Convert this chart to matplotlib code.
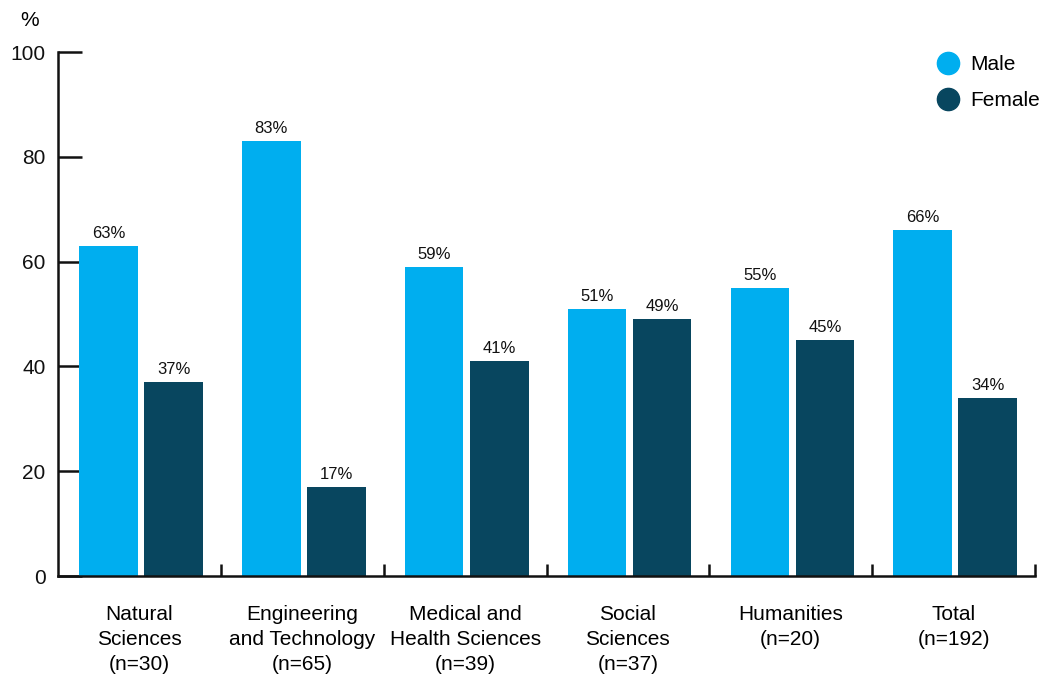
import matplotlib.pyplot as plt
from matplotlib.lines import Line2D
import numpy as np

plt.rcParams['font.family'] = ['Liberation Sans', 'DejaVu Sans']

categories = ["Natural\nSciences\n(n=30)", "Engineering\nand Technology\n(n=65)",
              "Medical and\nHealth Sciences\n(n=39)", "Social\nSciences\n(n=37)",
              "Humanities\n(n=20)", "Total\n(n=192)"]
male = [63, 83, 59, 51, 55, 66]
female = [37, 17, 41, 49, 45, 34]

male_color = "#00AEEF"
female_color = "#08465F"

fig = plt.figure(figsize=(10.42, 6.75), dpi=100)
ax = fig.add_axes([58 / 1042, 99 / 675, (1035 - 58) / 1042, (576 - 52) / 675])

x = np.arange(len(categories)) + 0.51
w = 0.36
bm = ax.bar(x - 0.2, male, w, color=male_color, zorder=2)
bf = ax.bar(x + 0.2, female, w, color=female_color, zorder=2)

for bars, vals in ((bm, male), (bf, female)):
    for b, v in zip(bars, vals):
        ax.text(b.get_x() + b.get_width() / 2, v + 1.0, f"{v}%",
                ha="center", va="bottom", fontsize=12, color="#111111")

ax.set_xlim(0, 6)
ax.set_ylim(0, 100)

for s in ("top", "right"):
    ax.spines[s].set_visible(False)
for s in ("left", "bottom"):
    ax.spines[s].set_linewidth(1.8)
    ax.spines[s].set_color("#111111")

ax.set_yticks(range(0, 101, 20))
ax.tick_params(axis="y", direction="in", length=17, width=1.8, labelsize=15,
               pad=9, colors="#111111")

# group separators as ticks, labels on minor ticks at group centres
ax.set_xticks(range(1, 7))
ax.set_xticklabels([])
ax.tick_params(axis="x", which="major", direction="in", length=9, width=1.8,
               color="#111111")
ax.set_xticks(np.arange(len(categories)) + 0.5, minor=True)
ax.set_xticklabels(categories, minor=True, fontsize=15, linespacing=1.38)
ax.tick_params(axis="x", which="minor", length=0, pad=21)

fig.text(30 / 1042, 1 - 20 / 675, "%", ha="center", va="center", fontsize=15)

handles = [Line2D([], [], marker="o", linestyle="", markersize=16,
                  markerfacecolor=male_color, markeredgecolor=male_color),
           Line2D([], [], marker="o", linestyle="", markersize=16,
                  markerfacecolor=female_color, markeredgecolor=female_color)]
fig.legend(handles, ["Male", "Female"], loc="upper right",
           bbox_to_anchor=(1.0 + 8 / 1042, 1 - 45 / 675), frameon=False,
           fontsize=15, handletextpad=0.05, labelspacing=0.8, borderaxespad=0.1)

fig.savefig("out.png", dpi=100)
